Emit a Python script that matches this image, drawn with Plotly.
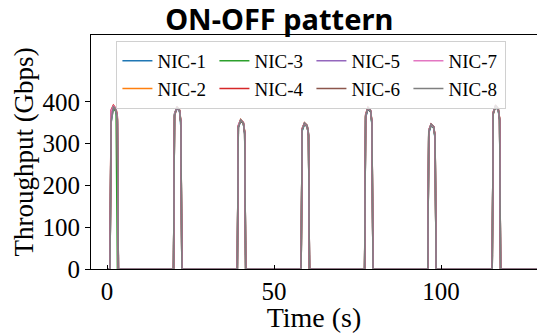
import plotly.graph_objects as go

# Time samples (s): each burst = rise, peak, plateau, late plateau, fall
TIME = [0.0,
        0.9, 1.2, 1.9, 2.7, 3.1, 3.4,
        19.9, 20.2, 20.9, 21.7, 22.1, 22.4,
        39.0, 39.3, 40.0, 40.8, 41.2, 41.5,
        58.1, 58.4, 59.1, 59.9, 60.3, 60.6,
        77.1, 77.4, 78.1, 78.9, 79.3, 79.6,
        96.0, 96.3, 97.0, 97.8, 98.2, 98.5,
        115.3, 115.6, 116.3, 117.1, 117.5, 117.8,
        135.0]

NIC_1 = [0,
         0, 360, 386, 379, 352, 0,
         0, 370, 385, 377, 340, 0,
         0, 338, 354, 349, 322, 0,
         0, 330, 346, 341, 318, 0,
         0, 362, 383, 376, 345, 0,
         0, 325, 343, 338, 310, 0,
         0, 372, 389, 380, 355, 0,
         0]
NIC_2 = [0,
         0, 375, 391, 382, 360, 0,
         0, 365, 387, 380, 348, 0,
         0, 342, 358, 351, 330, 0,
         0, 335, 349, 343, 320, 0,
         0, 368, 386, 378, 350, 0,
         0, 330, 346, 340, 315, 0,
         0, 370, 390, 383, 362, 0,
         0]
NIC_3 = [0,
         0, 350, 384, 376, 0, 0,
         0, 372, 386, 379, 352, 0,
         0, 340, 355, 348, 326, 0,
         0, 332, 347, 340, 322, 0,
         0, 365, 384, 377, 346, 0,
         0, 328, 344, 337, 312, 0,
         0, 374, 388, 381, 358, 0,
         0]
NIC_4 = [0,
         0, 380, 392, 384, 365, 0,
         0, 368, 388, 381, 355, 0,
         0, 343, 357, 350, 328, 0,
         0, 336, 350, 344, 325, 0,
         0, 370, 387, 380, 352, 0,
         0, 332, 347, 341, 318, 0,
         0, 376, 391, 384, 360, 0,
         0]
NIC_5 = [0,
         0, 348, 388, 380, 356, 0,
         0, 366, 386, 378, 350, 0,
         0, 339, 356, 350, 325, 0,
         0, 333, 348, 342, 321, 0,
         0, 364, 385, 378, 348, 0,
         0, 329, 345, 339, 314, 0,
         0, 371, 390, 382, 357, 0,
         0]
NIC_6 = [0,
         0, 370, 389, 381, 358, 0,
         0, 369, 387, 379, 349, 0,
         0, 341, 356, 349, 326, 0,
         0, 334, 348, 342, 319, 0,
         0, 366, 385, 377, 349, 0,
         0, 331, 346, 339, 316, 0,
         0, 373, 390, 382, 359, 0,
         0]
NIC_7 = [0,
         0, 378, 390, 383, 362, 0,
         0, 371, 388, 380, 353, 0,
         0, 344, 357, 351, 329, 0,
         0, 336, 349, 343, 323, 0,
         0, 369, 386, 379, 351, 0,
         0, 332, 346, 340, 317, 0,
         0, 375, 391, 383, 361, 0,
         0]
NIC_8 = [0,
         0, 352, 389, 381, 357, 0,
         0, 367, 388, 380, 351, 0,
         0, 340, 357, 350, 327, 0,
         0, 333, 350, 344, 324, 0,
         0, 367, 387, 379, 350, 0,
         0, 330, 347, 341, 316, 0,
         0, 373, 392, 384, 360, 0,
         0]

NAMES = ["NIC-1", "NIC-2", "NIC-3", "NIC-4", "NIC-5", "NIC-6", "NIC-7", "NIC-8"]
SERIES = [NIC_1, NIC_2, NIC_3, NIC_4, NIC_5, NIC_6, NIC_7, NIC_8]
COLORS = ["#1f77b4", "#ff7f0e", "#2ca02c", "#d62728",
          "#9467bd", "#8c564b", "#e377c2", "#7f7f7f"]
# legend filled column-wise (2 rows x 4 cols) like matplotlib
RANKS = [1, 5, 2, 6, 3, 7, 4, 8]

X_TICKS = [0, 50, 100]
Y_TICKS = [0, 100, 200, 300, 400]

SERIF = "Liberation Serif"

fig = go.Figure()
for name, vals, col, rk in zip(NAMES, SERIES, COLORS, RANKS):
    fig.add_trace(go.Scatter(x=TIME, y=vals, mode="lines", name=name,
                             line=dict(color=col, width=1.5),
                             legendrank=rk))

fig.update_layout(
    width=537, height=333,
    margin=dict(l=91, r=0, t=35, b=64, autoexpand=False),
    plot_bgcolor="white", paper_bgcolor="white",
    title=dict(text="<b>ON-OFF pattern</b>", x=0.52, xref="container", xanchor="center",
               y=0.94, yref="container", yanchor="middle",
               font=dict(family="Noto Sans", size=29, color="black"),
               pad=dict(t=0, b=0)),
    font=dict(family=SERIF, color="black"),
    xaxis=dict(range=[-4.8, 128.7], tickvals=X_TICKS, ticks="inside", ticklen=4,
               tickcolor="black", showline=True, linecolor="black", linewidth=1.2,
               mirror=True, showgrid=False, zeroline=False, automargin=False,
               tickfont=dict(family=SERIF, size=25),
               title=dict(text="Time (s)", font=dict(family=SERIF, size=28), standoff=0)),
    yaxis=dict(range=[0, 560], tickvals=Y_TICKS, ticks="outside", ticklen=5,
               tickcolor="black", showline=True, linecolor="black", linewidth=1.2,
               showgrid=False, zeroline=False, automargin=False,
               tickfont=dict(family=SERIF, size=25),
               title=dict(text="Throughput (Gbps)", font=dict(family=SERIF, size=27), standoff=0)),
    legend=dict(orientation="h", x=0.057, xanchor="left", y=0.975, yanchor="top",
                entrywidth=52, entrywidthmode="pixels",
                font=dict(family=SERIF, size=19),
                bgcolor="rgba(255,255,255,0.8)", bordercolor="#d0d0d0", borderwidth=1,
                itemwidth=30, tracegroupgap=0),
    showlegend=True,
)

fig.write_html("out.html",
               config={"displayModeBar": False},
               post_script="document.body.style.margin='0';document.body.style.overflow='hidden';")
